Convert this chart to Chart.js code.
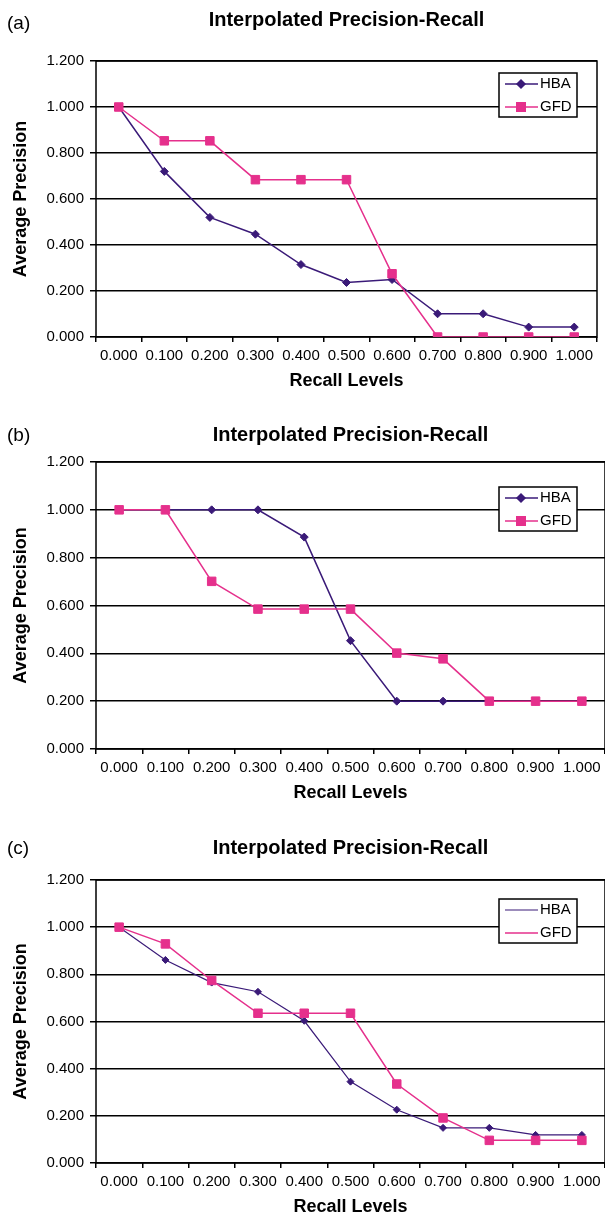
<!doctype html>
<html>
<head>
<meta charset="UTF-8" />
<title>Interpolated Precision-Recall</title>
<style>
  html, body { margin: 0; padding: 0; background: #fff; overflow: hidden; }
  body { width: 605px; height: 1215px; position: relative; font-family: Arial, "Liberation Sans", sans-serif; }
  .panel { position: absolute; left: 0; }
  .tag { position: absolute; left: 7px; font-size: 19px; line-height: 22px; color: #000; }
</style>
</head>
<body>
  <div class="panel" style="top:0"><canvas id="chartA" width="605" height="400"></canvas></div>
  <div class="panel" style="top:400px"><canvas id="chartB" width="612" height="412"></canvas></div>
  <div class="panel" style="top:812px"><canvas id="chartC" width="612" height="414"></canvas></div>
  <div class="tag" style="top:12px">(a)</div>
  <div class="tag" style="top:424px">(b)</div>
  <div class="tag" style="top:837px">(c)</div>

<script src="https://cdn.jsdelivr.net/npm/chart.js"></script>
<script>
// values
const recallLevels = ['0.000', '0.100', '0.200', '0.300', '0.400', '0.500', '0.600', '0.700', '0.800', '0.900', '1.000'];
const yTickValues = [0, 0.2, 0.4, 0.6, 0.8, 1.0, 1.2];

const hbaA = [1.000, 0.720, 0.520, 0.447, 0.315, 0.237, 0.250, 0.101, 0.101, 0.043, 0.043];
const gfdA = [1.000, 0.853, 0.853, 0.684, 0.684, 0.684, 0.275, 0.000, 0.000, 0.000, 0.000];

const hbaB = [1.000, 1.000, 1.000, 1.000, 0.886, 0.453, 0.200, 0.200, 0.200, 0.200, 0.200];
const gfdB = [1.000, 1.000, 0.701, 0.585, 0.585, 0.585, 0.401, 0.377, 0.200, 0.200, 0.200];

const hbaC = [1.000, 0.861, 0.765, 0.726, 0.603, 0.345, 0.226, 0.149, 0.149, 0.119, 0.119];
const gfdC = [1.000, 0.929, 0.774, 0.635, 0.635, 0.635, 0.335, 0.191, 0.096, 0.096, 0.096];

const FONT = 'Arial, "Liberation Sans", sans-serif';
const HBA_COLOR = '#3A1A78';
const GFD_COLOR = '#E5308C';

// black frame round the plot area
const plotFrame = {
  id: 'plotFrame',
  beforeDatasetsDraw(chart) {
    const { ctx, chartArea: a } = chart;
    ctx.save();
    ctx.strokeStyle = '#000';
    ctx.lineWidth = 1.5;
    ctx.strokeRect(a.left, a.top, a.right - a.left, a.bottom - a.top);
    ctx.restore();
  }
};

// boxed legend inside the plot
const boxLegend = {
  id: 'boxLegend',
  afterDraw(chart, args, opts) {
    const ctx = chart.ctx;
    const x = opts.x;
    const y = chart.chartArea.top + opts.dy;
    const w = 78, h = 44;
    ctx.save();
    ctx.fillStyle = '#fff';
    ctx.fillRect(x, y, w, h);
    ctx.strokeStyle = '#000';
    ctx.lineWidth = 1.5;
    ctx.strokeRect(x, y, w, h);
    chart.data.datasets.forEach((ds, i) => {
      const cy = y + 11 + i * 23;
      ctx.strokeStyle = ds.borderColor;
      ctx.fillStyle = ds.borderColor;
      ctx.lineWidth = ds.borderWidth;
      ctx.beginPath();
      ctx.moveTo(x + 6, cy);
      ctx.lineTo(x + 39, cy);
      ctx.stroke();
      if (opts.markers) {
        Chart.helpers.drawPoint(ctx, { pointStyle: ds.pointStyle, radius: ds.pointRadius, borderWidth: 1, rotation: 0 }, x + 22, cy);
      }
      ctx.fillStyle = '#000';
      ctx.font = '15px ' + FONT;
      ctx.textBaseline = 'middle';
      ctx.textAlign = 'left';
      ctx.fillText(ds.label, x + 41, cy);
    });
    ctx.restore();
  }
};

function makeChart(id, hba, gfd, cfg) {
  return new Chart(document.getElementById(id), {
    type: 'line',
    data: {
      labels: recallLevels,
      datasets: [
        {
          label: 'HBA', data: hba, order: 1,
          borderColor: HBA_COLOR, backgroundColor: HBA_COLOR,
          borderWidth: cfg.hbaWidth, pointStyle: 'rectRot', pointRadius: cfg.diamond,
          pointBorderWidth: 1, pointBackgroundColor: HBA_COLOR, pointBorderColor: HBA_COLOR,
          tension: 0
        },
        {
          label: 'GFD', data: gfd, order: 0,
          borderColor: GFD_COLOR, backgroundColor: GFD_COLOR,
          borderWidth: 1.5, pointStyle: 'rect', pointRadius: 6,
          pointBorderWidth: 1, pointBackgroundColor: GFD_COLOR, pointBorderColor: GFD_COLOR,
          tension: 0
        }
      ]
    },
    options: {
      responsive: false,
      animation: false,
      events: [],
      layout: { padding: { left: 0, right: cfg.padRight, top: 0, bottom: 0 } },
      plugins: {
        legend: { display: false },
        tooltip: { enabled: false },
        title: {
          display: true,
          text: 'Interpolated Precision-Recall',
          fullSize: false,
          color: '#000',
          font: { family: FONT, size: 20, weight: 'bold', lineHeight: 1.2 },
          padding: { top: cfg.titleTop, bottom: cfg.titleBottom }
        },
        boxLegend: { x: cfg.legendX, dy: cfg.legendDy, markers: cfg.markers }
      },
      scales: {
        x: {
          type: 'category',
          offset: true,
          grid: { offset: true, drawOnChartArea: false, drawTicks: true, tickLength: 5, color: '#000', lineWidth: 1.5 },
          border: { display: false },
          ticks: { color: '#000', font: { family: FONT, size: 15 }, padding: 5, maxRotation: 0, autoSkip: false },
          title: {
            display: true, text: 'Recall Levels', color: '#000',
            font: { family: FONT, size: 18, weight: 'bold', lineHeight: 1.2 },
            padding: { top: 0, bottom: 8 }
          },
          afterFit(scale) { scale.height = 63; }
        },
        y: {
          min: 0,
          max: 1.2,
          afterBuildTicks(scale) { scale.ticks = yTickValues.map((v) => ({ value: v })); },
          grid: { color: '#000', lineWidth: 1.5, tickLength: 6, drawTicks: true },
          border: { display: false },
          ticks: { color: '#000', font: { family: FONT, size: 15 }, padding: 6, callback: (v) => Number(v).toFixed(3) },
          title: {
            display: true, text: 'Average Precision', color: '#000',
            font: { family: FONT, size: 18, weight: 'bold', lineHeight: 1.2 },
            padding: { top: 10, bottom: 0 }
          },
          afterFit(scale) { scale.width = 96; }
        }
      }
    },
    plugins: [plotFrame, boxLegend]
  });
}

makeChart('chartA', hbaA, gfdA, { padRight: 8, titleTop: 8, titleBottom: 29, legendX: 499, legendDy: 12, markers: true, hbaWidth: 1.5, diamond: 4 });
makeChart('chartB', hbaB, gfdB, { padRight: 6, titleTop: 23, titleBottom: 15, legendX: 499, legendDy: 25, markers: true, hbaWidth: 1.5, diamond: 4 });
makeChart('chartC', hbaC, gfdC, { padRight: 6, titleTop: 24, titleBottom: 20, legendX: 499, legendDy: 19, markers: false, hbaWidth: 1.2, diamond: 3.5 });
</script>
</body>
</html>
